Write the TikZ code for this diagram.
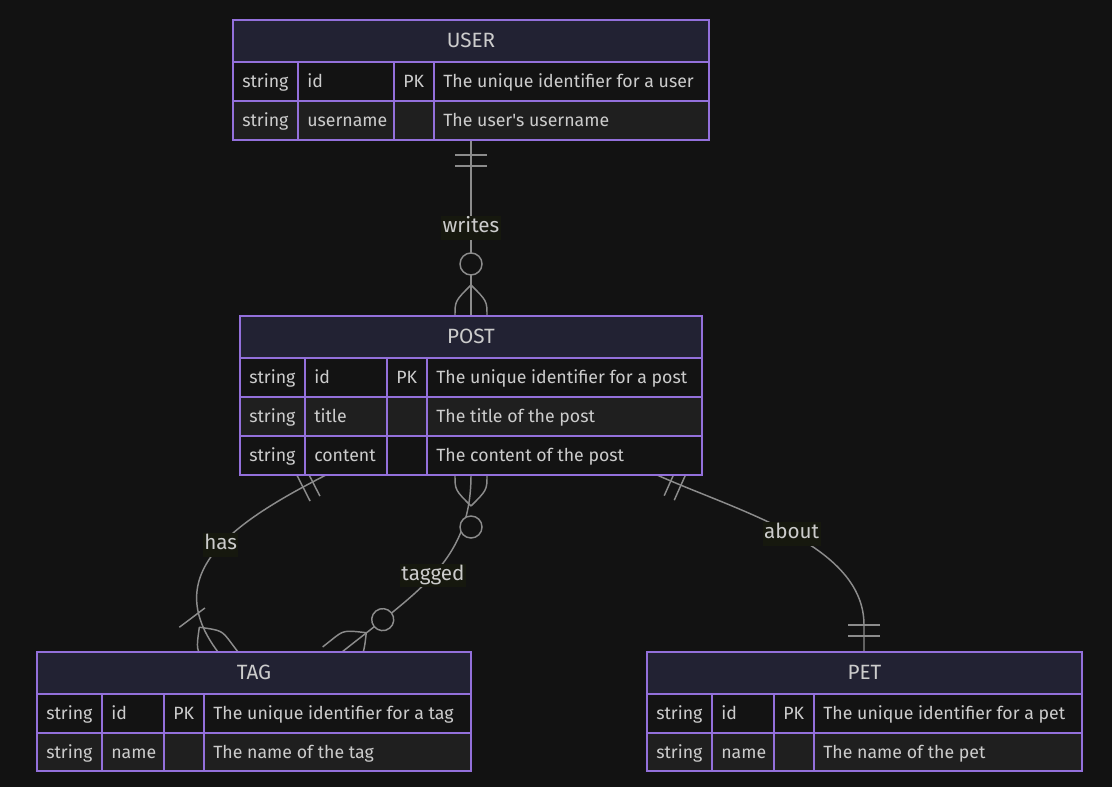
\documentclass[tikz,border=0pt]{standalone}
\usepackage{fontspec}
\setmainfont{Fira Sans}
\usetikzlibrary{decorations.markings}

\definecolor{bgcol}{RGB}{18,18,18}
\definecolor{headcol}{RGB}{34,34,51}
\definecolor{rowa}{RGB}{19,19,19}
\definecolor{rowb}{RGB}{31,31,31}
\definecolor{bordercol}{RGB}{147,112,219}
\definecolor{linecol}{RGB}{140,140,140}
\definecolor{txtcol}{RGB}{204,204,204}
\definecolor{lblcol}{RGB}{22,24,14}

\tikzset{
  frame/.style={draw=bordercol, line width=1.5pt},
  cell/.style={text=txtcol, font=\fontsize{13.3}{15}\selectfont, anchor=base west, inner sep=0pt},
  title/.style={text=txtcol, font=\fontsize{15.5}{18}\selectfont, anchor=base, inner sep=0pt},
  rel/.style={draw=linecol, line width=1.1pt},
  lbl/.style={fill=lblcol, text=txtcol, font=\fontsize{15.5}{18}\selectfont, inner xsep=1pt, inner ysep=1pt, text height=11.5pt, text depth=4pt},
  one start/.style={postaction={decorate, decoration={markings, mark=at position 0 with {
    \draw[rel] (15,-16) -- (15,16) (26,-16) -- (26,16);}}}},
  one end/.style={postaction={decorate, decoration={markings, mark=at position 0.9999 with {
    \draw[rel] (-16,-16) -- (-16,16) (-27,-16) -- (-27,16);}}}},
  zero many start/.style={postaction={decorate, decoration={markings, mark=at position 0 with {
    \draw[rel] (31,0) .. controls (15,16) .. (0,16) -- (-12,16)
               (31,0) .. controls (15,-16) .. (0,-16) -- (-12,-16);
    \filldraw[rel, fill=bgcol] (52,0) circle (11);}}}},
  zero many end/.style={postaction={decorate, decoration={markings, mark=at position 0.9999 with {
    \draw[rel] (-31,0) .. controls (-15,16) .. (0,16) -- (12,16)
               (-31,0) .. controls (-15,-16) .. (0,-16) -- (12,-16);
    \filldraw[rel, fill=bgcol] (-52,0) circle (11);}}}},
  one many end/.style={postaction={decorate, decoration={markings, mark=at position 0.9999 with {
    \draw[rel] (-31,0) .. controls (-15,16) .. (0,16) -- (12,16)
               (-31,0) .. controls (-15,-16) .. (0,-16) -- (12,-16);
    \draw[rel] (-43,-16) -- (-43,16);}}}}
}

\begin{document}
\begin{tikzpicture}[x=0.75pt, y=-0.75pt]
  \fill[bgcol] (0,0) rectangle (1112,787);

  % connector ends
  \coordinate (user-s) at (471,140);
  \coordinate (post-n) at (471,316);
  \coordinate (post-has) at (326,475);
  \coordinate (post-tag) at (471,475);
  \coordinate (post-pet) at (657,475);
  \coordinate (tag-has) at (218,652);
  \coordinate (tag-tag) at (342,652);
  \coordinate (pet-n) at (864,652);

  % relations
  \draw[rel, one start, zero many end] (user-s) -- node[lbl] (l-writes) {writes} (post-n);
  \draw[rel, one start, one many end] (post-has) .. controls (228,525) and (160,575) .. node[lbl, pos=0.45] (l-has) {has} (tag-has);
  \draw[rel, zero many start, zero many end] (post-tag) .. controls (471,560) and (420,590) .. node[lbl, pos=0.52] (l-tagged) {tagged} (tag-tag);
  \draw[rel, one start, one end] (post-pet) .. controls (740,512) and (864,545) .. (864,625) node[lbl, pos=0.5] (l-about) {about} -- (pet-n);

  % USER
  \fill[headcol] (233,20) rectangle (709,62);
  \foreach \ya/\yb/\col in {62/101/rowa, 101/140/rowb} \fill[\col] (233,\ya) rectangle (709,\yb);
  \draw[frame] (233,20) rectangle (709,140);
  \foreach \y in {62,101} \draw[frame] (233,\y) -- (709,\y);
  \foreach \x in {298,394,434} \draw[frame] (\x,62) -- (\x,140);
  \node[title] (user) at (471,47.5) {USER};
  \foreach \i/\y/\n/\k/\d in {1/87.5/id/PK/The unique identifier for a user,
                              2/126.5/username//The user\textquotesingle s username} {
    \node[cell] (user-t\i) at (242,\y) {string};
    \node[cell] (user-n\i) at (307,\y) {\n};
    \node[cell] (user-k\i) at (403,\y) {\k};
    \node[cell] (user-d\i) at (443,\y) {\d};
  }

  % POST
  \fill[headcol] (240,316) rectangle (702,358);
  \foreach \ya/\yb/\col in {358/397/rowa, 397/436/rowb, 436/475/rowa} \fill[\col] (240,\ya) rectangle (702,\yb);
  \draw[frame] (240,316) rectangle (702,475);
  \foreach \y in {358,397,436} \draw[frame] (240,\y) -- (702,\y);
  \foreach \x in {305,387,427} \draw[frame] (\x,358) -- (\x,475);
  \node[title] (post) at (471,343.5) {POST};
  \foreach \i/\y/\n/\k/\d in {1/383.5/id/PK/The unique identifier for a post,
                              2/422.5/title//The title of the post,
                              3/461.5/content//The content of the post} {
    \node[cell] (post-t\i) at (249,\y) {string};
    \node[cell] (post-n\i) at (314,\y) {\n};
    \node[cell] (post-k\i) at (396,\y) {\k};
    \node[cell] (post-d\i) at (436,\y) {\d};
  }

  % TAG
  \fill[headcol] (37,652) rectangle (471,694);
  \foreach \ya/\yb/\col in {694/733/rowa, 733/771/rowb} \fill[\col] (37,\ya) rectangle (471,\yb);
  \draw[frame] (37,652) rectangle (471,771);
  \foreach \y in {694,733} \draw[frame] (37,\y) -- (471,\y);
  \foreach \x in {102,164,204} \draw[frame] (\x,694) -- (\x,771);
  \node[title] (tag) at (254,679.5) {TAG};
  \foreach \i/\y/\n/\k/\d in {1/719.5/id/PK/The unique identifier for a tag,
                              2/758/name//The name of the tag} {
    \node[cell] (tag-t\i) at (46,\y) {string};
    \node[cell] (tag-n\i) at (111,\y) {\n};
    \node[cell] (tag-k\i) at (173,\y) {\k};
    \node[cell] (tag-d\i) at (213,\y) {\d};
  }

  % PET
  \fill[headcol] (647,652) rectangle (1082,694);
  \foreach \ya/\yb/\col in {694/733/rowa, 733/771/rowb} \fill[\col] (647,\ya) rectangle (1082,\yb);
  \draw[frame] (647,652) rectangle (1082,771);
  \foreach \y in {694,733} \draw[frame] (647,\y) -- (1082,\y);
  \foreach \x in {712,774,814} \draw[frame] (\x,694) -- (\x,771);
  \node[title] (pet) at (864.5,679.5) {PET};
  \foreach \i/\y/\n/\k/\d in {1/719.5/id/PK/The unique identifier for a pet,
                              2/758/name//The name of the pet} {
    \node[cell] (pet-t\i) at (656,\y) {string};
    \node[cell] (pet-n\i) at (721,\y) {\n};
    \node[cell] (pet-k\i) at (783,\y) {\k};
    \node[cell] (pet-d\i) at (823,\y) {\d};
  }
\end{tikzpicture}
\end{document}
